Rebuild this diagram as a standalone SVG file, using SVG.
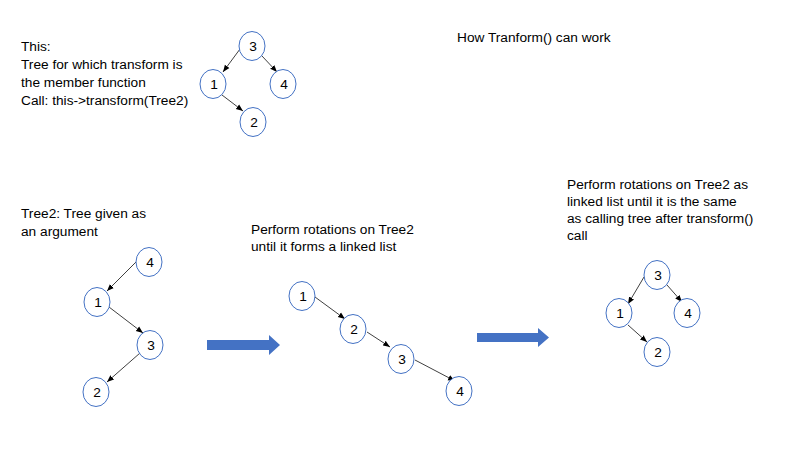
<svg xmlns="http://www.w3.org/2000/svg" width="800" height="450" viewBox="0 0 800 450">
<defs>
<style>
.t{font-family:"Liberation Sans",Arial,sans-serif;font-size:13.7px;fill:#000}
.n ellipse{fill:#fff;stroke:#4472C4;stroke-width:1}
.n text{font-family:"Liberation Sans",Arial,sans-serif;font-size:13.7px;fill:#000;text-anchor:middle}
.e line{stroke:#000;stroke-width:0.75;marker-end:url(#ah)}
.big{fill:#4472C4}
</style>
<marker id="ah" viewBox="0 0 10 10" refX="10" refY="5" markerWidth="7" markerHeight="7" markerUnits="userSpaceOnUse" orient="auto">
<path d="M0,1 L10,5 L0,9 Z" fill="#000"/>
</marker>
</defs>
<rect width="800" height="450" fill="#fff"/>

<g id="texts">
<text class="t" x="21" y="51">This:</text>
<text class="t" x="21" y="69">Tree for which transform is</text>
<text class="t" x="21" y="87">the member function</text>
<text class="t" x="21" y="105">Call: this-&gt;transform(Tree2)</text>
<text class="t" x="457" y="42">How Tranform() can work</text>
<text class="t" x="21" y="218">Tree2: Tree given as</text>
<text class="t" x="21" y="236">an argument</text>
<text class="t" x="251" y="234">Perform rotations on Tree2</text>
<text class="t" x="251" y="251">until it forms a linked list</text>
<text class="t" x="567" y="189">Perform rotations on Tree2 as</text>
<text class="t" x="567" y="206">linked list until it is the same</text>
<text class="t" x="567" y="223">as calling tree after transform()</text>
<text class="t" x="567" y="240">call</text>
</g>

<g id="connectors" class="e">
<line x1="240" y1="49" x2="223" y2="72"/>
<line x1="262" y1="56" x2="277" y2="72"/>
<line x1="222" y1="95" x2="243" y2="111"/>
<line x1="137" y1="261" x2="107" y2="291"/>
<line x1="109" y1="307" x2="143" y2="333"/>
<line x1="140" y1="353" x2="107" y2="382"/>
<line x1="315" y1="297" x2="345" y2="319"/>
<line x1="367" y1="332" x2="390" y2="347"/>
<line x1="415" y1="360" x2="455" y2="381"/>
<line x1="644" y1="277" x2="628" y2="304"/>
<line x1="667" y1="285" x2="682" y2="302"/>
<line x1="628" y1="325" x2="647" y2="342"/>
</g>

<g id="arrows">
<polygon id="bigarrow1" class="big" points="207,340 269,340 269,335 280,345 269,355 269,350 207,350"/>
<polygon id="bigarrow2" class="big" points="477,333 538,333 538,328 549,337.5 538,347 538,342 477,342"/>
</g>

<g id="a3" class="n"><ellipse cx="252" cy="46" rx="13" ry="14.5"/><text x="253" y="51">3</text></g>
<g id="a1" class="n"><ellipse cx="213" cy="84" rx="13" ry="14.5"/><text x="214" y="89">1</text></g>
<g id="a4" class="n"><ellipse cx="283" cy="84" rx="13" ry="14.5"/><text x="284" y="89">4</text></g>
<g id="a2" class="n"><ellipse cx="253" cy="122" rx="13" ry="14.5"/><text x="254" y="127">2</text></g>

<g id="b4" class="n"><ellipse cx="149" cy="262" rx="13" ry="14.5"/><text x="150" y="267">4</text></g>
<g id="b1" class="n"><ellipse cx="97" cy="302" rx="13" ry="14.5"/><text x="98" y="307">1</text></g>
<g id="b3" class="n"><ellipse cx="150" cy="345" rx="13" ry="14.5"/><text x="151" y="350">3</text></g>
<g id="b2" class="n"><ellipse cx="96" cy="392" rx="13" ry="14.5"/><text x="97" y="397">2</text></g>

<g id="c1" class="n"><ellipse cx="302" cy="296" rx="13" ry="14.5"/><text x="303" y="301">1</text></g>
<g id="c2" class="n"><ellipse cx="353" cy="329" rx="13" ry="14.5"/><text x="354" y="334">2</text></g>
<g id="c3" class="n"><ellipse cx="401" cy="359" rx="13" ry="14.5"/><text x="402" y="364">3</text></g>
<g id="c4" class="n"><ellipse cx="459" cy="391" rx="13" ry="14.5"/><text x="460" y="396">4</text></g>

<g id="d3" class="n"><ellipse cx="657" cy="275" rx="13" ry="14.5"/><text x="658" y="280">3</text></g>
<g id="d1" class="n"><ellipse cx="619" cy="313" rx="13" ry="14.5"/><text x="620" y="318">1</text></g>
<g id="d4" class="n"><ellipse cx="687" cy="313" rx="13" ry="14.5"/><text x="688" y="318">4</text></g>
<g id="d2" class="n"><ellipse cx="657" cy="352" rx="13" ry="14.5"/><text x="658" y="357">2</text></g>
</svg>
